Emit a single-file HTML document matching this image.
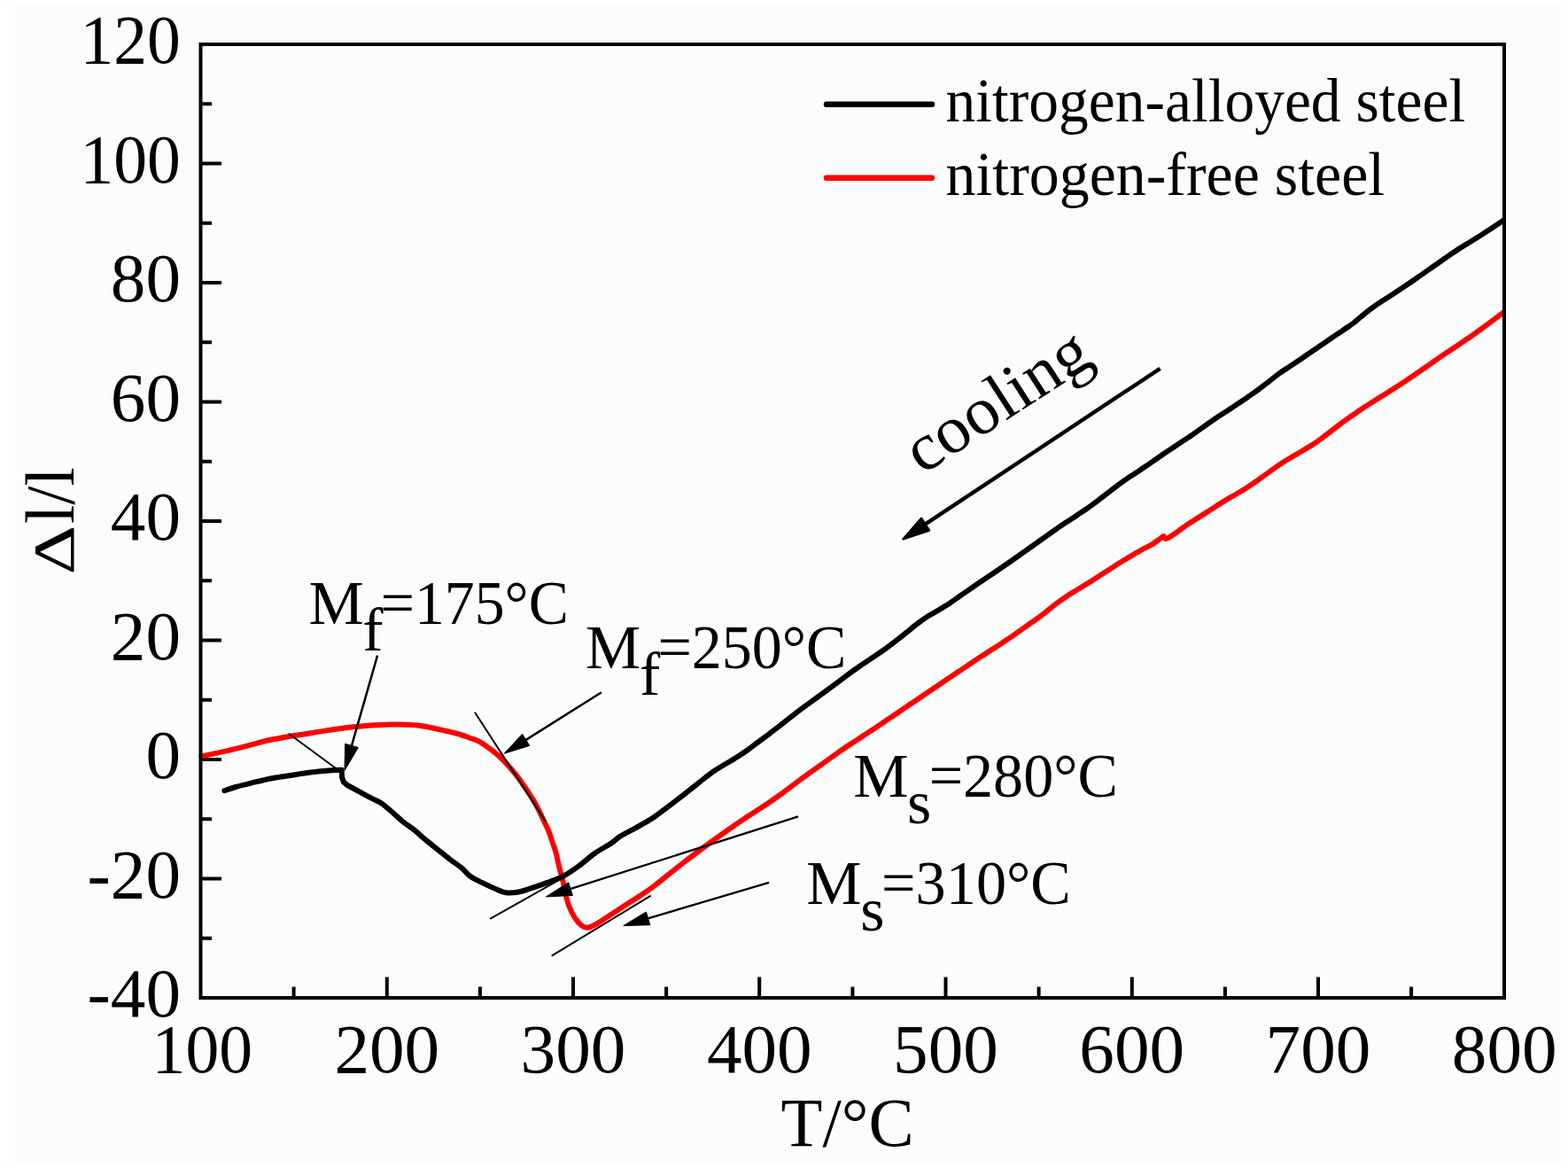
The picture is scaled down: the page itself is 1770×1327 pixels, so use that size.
<!DOCTYPE html>
<html><head><meta charset="utf-8"><title>Dilatometric curves</title>
<style>html,body{margin:0;padding:0;background:#fff;overflow:hidden}svg{display:block}</style>
</head><body>
<svg width="1770" height="1327" viewBox="0 0 1770 1327">
<rect x="0" y="0" width="1770" height="1327" fill="#ffffff"/>
<rect x="10" y="2" width="1752" height="1314" fill="#fbfcfc"/>
<g font-family="Liberation Serif, Times New Roman, serif" fill="#000">
<path d="M331.6 1126V1113.5 M436.8 1126V1102.5 M541.9 1126V1113.5 M647.0 1126V1102.5 M752.1 1126V1113.5 M857.2 1126V1102.5 M962.4 1126V1113.5 M1067.5 1126V1102.5 M1172.6 1126V1113.5 M1277.8 1126V1102.5 M1382.9 1126V1113.5 M1488.0 1126V1102.5 M1593.1 1126V1113.5 M226.5 1058.8H239.0 M226.5 991.5H250.0 M226.5 924.2H239.0 M226.5 857.0H250.0 M226.5 789.8H239.0 M226.5 722.5H250.0 M226.5 655.2H239.0 M226.5 588.0H250.0 M226.5 520.8H239.0 M226.5 453.5H250.0 M226.5 386.2H239.0 M226.5 319.0H250.0 M226.5 251.8H239.0 M226.5 184.5H250.0 M226.5 117.2H239.0" stroke="#000" stroke-width="4" fill="none"/>
<text x="98.4" y="1147.3" font-size="79.2" textLength="105.6" lengthAdjust="spacingAndGlyphs">-40</text>
<text x="98.4" y="1012.8" font-size="79.2" textLength="105.6" lengthAdjust="spacingAndGlyphs">-20</text>
<text x="164.4" y="878.3" font-size="79.2" textLength="39.6" lengthAdjust="spacingAndGlyphs">0</text>
<text x="124.8" y="743.8" font-size="79.2" textLength="79.2" lengthAdjust="spacingAndGlyphs">20</text>
<text x="124.8" y="609.3" font-size="79.2" textLength="79.2" lengthAdjust="spacingAndGlyphs">40</text>
<text x="124.8" y="474.8" font-size="79.2" textLength="79.2" lengthAdjust="spacingAndGlyphs">60</text>
<text x="124.8" y="340.3" font-size="79.2" textLength="79.2" lengthAdjust="spacingAndGlyphs">80</text>
<text x="90.4" y="205.8" font-size="79.2" textLength="113.5" lengthAdjust="spacingAndGlyphs">100</text>
<text x="90.4" y="71.3" font-size="79.2" textLength="113.5" lengthAdjust="spacingAndGlyphs">120</text>
<text x="171.6" y="1210.2" font-size="79.2" textLength="113.5" lengthAdjust="spacingAndGlyphs">100</text>
<text x="377.4" y="1210.2" font-size="79.2" textLength="118.8" lengthAdjust="spacingAndGlyphs">200</text>
<text x="587.6" y="1210.2" font-size="79.2" textLength="118.8" lengthAdjust="spacingAndGlyphs">300</text>
<text x="797.9" y="1210.2" font-size="79.2" textLength="118.8" lengthAdjust="spacingAndGlyphs">400</text>
<text x="1008.1" y="1210.2" font-size="79.2" textLength="118.8" lengthAdjust="spacingAndGlyphs">500</text>
<text x="1218.3" y="1210.2" font-size="79.2" textLength="118.8" lengthAdjust="spacingAndGlyphs">600</text>
<text x="1428.6" y="1210.2" font-size="79.2" textLength="118.8" lengthAdjust="spacingAndGlyphs">700</text>
<text x="1638.8" y="1210.2" font-size="79.2" textLength="118.8" lengthAdjust="spacingAndGlyphs">800</text>
<text x="881.5" y="1293.0" font-size="79" textLength="150.1" lengthAdjust="spacingAndGlyphs">T/°C</text>
<text transform="translate(83 648.6) rotate(-90)" x="0" y="0" font-size="66" textLength="55.9" lengthAdjust="spacingAndGlyphs">Δ</text>
<text transform="translate(83 591.1) rotate(-90)" x="0" y="0" font-size="79" textLength="63.9" lengthAdjust="spacingAndGlyphs">l/l</text>
<text x="1067.5" y="136.6" font-size="70" textLength="586.7" lengthAdjust="spacingAndGlyphs">nitrogen-alloyed steel</text>
<text x="1067.5" y="219.8" font-size="70" textLength="495.7" lengthAdjust="spacingAndGlyphs">nitrogen-free steel</text>
<path d="M933 117.8H1052" stroke="#000" stroke-width="6.5" stroke-linecap="round"/>
<path d="M933 200.7H1052" stroke="#ff0000" stroke-width="6.5" stroke-linecap="round"/>
<text x="348.4" y="703.8" font-size="70">M</text>
<text x="409.3" y="733.8" font-size="70">f</text>
<text x="429.7" y="703.8" font-size="70" textLength="212.2" lengthAdjust="spacingAndGlyphs">=175°C</text>
<text x="660.9" y="753.6" font-size="70">M</text>
<text x="722.0" y="783.6" font-size="70">f</text>
<text x="742.4" y="753.6" font-size="70" textLength="213.1" lengthAdjust="spacingAndGlyphs">=250°C</text>
<text x="963.3" y="899.3" font-size="70">M</text>
<text x="1024.0" y="929.3" font-size="70">s</text>
<text x="1048.7" y="899.3" font-size="70" textLength="213.1" lengthAdjust="spacingAndGlyphs">=280°C</text>
<text x="910.2" y="1019.7" font-size="70">M</text>
<text x="971.3" y="1049.7" font-size="70">s</text>
<text x="995.1" y="1019.7" font-size="70" textLength="213.8" lengthAdjust="spacingAndGlyphs">=310°C</text>
<text transform="translate(1040.9 536.2) rotate(-33.0)" x="0" y="0" font-size="76" textLength="233.4" lengthAdjust="spacingAndGlyphs">cooling</text>
</g>
<path d="M227.3,853.4C233.4,852.1 250.6,848.6 264.1,845.4C277.6,842.2 293.4,837.4 308.1,834.3C322.8,831.2 337.5,829.3 352.2,827.0C366.9,824.7 381.6,822.0 396.3,820.4C411.0,818.8 427.7,817.8 440.3,817.5C452.9,817.2 461.2,817.3 471.7,818.5C482.2,819.7 495.2,823.0 503.3,824.8C511.4,826.5 515.5,827.7 520.0,829.0C524.5,830.3 527.0,831.4 530.5,832.7C534.0,834.0 537.6,835.0 541.1,836.9C544.6,838.8 548.1,841.2 551.6,843.8C555.1,846.3 558.7,849.1 562.2,852.2C565.7,855.4 569.2,858.8 572.7,862.7C576.2,866.6 579.8,870.8 583.3,875.4C586.8,880.0 590.3,884.9 593.8,890.2C597.3,895.5 601.2,901.5 604.4,907.1C607.6,912.7 610.3,918.8 612.8,923.9C615.3,929.0 617.4,933.1 619.2,937.5C621.0,941.9 622.1,945.9 623.5,950.0C624.9,954.1 626.3,957.5 627.5,962.0C628.7,966.5 629.7,972.3 630.9,977.1C632.1,981.9 633.5,986.6 634.6,990.7C635.7,994.9 636.4,998.2 637.2,1002.0C638.0,1005.8 638.5,1009.6 639.5,1013.3C640.5,1017.0 641.4,1020.3 643.0,1024.1C644.6,1027.9 646.8,1032.6 649.0,1035.9C651.2,1039.2 653.9,1042.4 656.2,1044.2C658.5,1046.0 660.4,1046.9 663.0,1046.8C665.6,1046.7 667.9,1045.5 671.6,1043.5C675.3,1041.5 680.4,1038.0 685.1,1035.0C689.8,1032.0 695.5,1028.2 700.0,1025.3C704.5,1022.4 708.0,1020.1 712.0,1017.5C716.0,1014.9 720.0,1012.4 724.0,1009.7C728.0,1007.1 732.0,1004.5 736.0,1001.6C740.0,998.7 744.0,995.3 748.0,992.1C752.0,988.9 756.0,985.7 760.0,982.5C764.0,979.3 768.0,976.1 772.0,973.0C776.0,969.9 780.0,967.0 784.0,964.0C788.0,961.0 792.0,958.0 796.0,955.0C800.0,952.0 804.0,949.1 808.0,946.2C812.0,943.4 816.0,940.6 820.0,937.8C824.0,935.0 828.0,932.2 832.0,929.4C836.0,926.7 840.0,924.0 844.0,921.3C848.0,918.7 852.0,916.1 856.0,913.5C860.0,910.9 864.0,908.4 868.0,905.7C872.0,903.0 876.0,900.2 880.0,897.3C884.0,894.4 888.0,891.3 892.0,888.3C896.0,885.3 900.0,882.3 904.0,879.3C908.0,876.4 912.0,873.5 916.0,870.7C920.0,867.8 924.0,865.0 928.0,862.1C932.0,859.3 936.0,856.5 940.0,853.6C944.0,850.8 948.0,847.8 952.0,845.1C956.0,842.3 960.0,839.8 964.0,837.2C968.0,834.6 972.0,831.9 976.0,829.3C980.0,826.7 984.0,824.0 988.0,821.4C992.0,818.7 996.0,816.0 1000.0,813.3C1004.0,810.6 1008.0,807.9 1012.0,805.2C1016.0,802.5 1020.0,799.8 1024.0,797.0C1028.0,794.3 1032.0,791.6 1036.0,788.9C1040.0,786.2 1044.0,783.5 1048.0,780.8C1052.0,778.1 1056.0,775.4 1060.0,772.7C1064.0,770.0 1068.0,767.3 1072.0,764.6C1076.0,761.9 1080.0,759.2 1084.0,756.6C1088.0,753.9 1092.0,751.1 1096.0,748.5C1100.0,745.8 1104.0,743.2 1108.0,740.6C1112.0,737.9 1116.0,735.4 1120.0,732.8C1124.0,730.2 1128.0,727.6 1132.0,725.0C1136.0,722.3 1140.0,719.6 1144.0,716.9C1148.0,714.1 1152.0,711.2 1156.0,708.4C1160.0,705.5 1164.0,702.8 1168.0,700.0C1172.0,697.1 1176.0,694.2 1180.0,691.1C1184.0,688.0 1188.0,684.4 1192.0,681.4C1196.0,678.4 1200.0,675.6 1204.0,672.9C1208.0,670.3 1212.0,668.0 1216.0,665.5C1220.0,663.0 1224.0,660.6 1228.0,658.1C1232.0,655.7 1236.0,653.1 1240.0,650.5C1244.0,648.0 1248.0,645.4 1252.0,642.8C1256.0,640.2 1260.0,637.5 1264.0,635.0C1268.0,632.5 1272.0,630.1 1276.0,627.8C1280.0,625.4 1284.0,623.1 1288.0,620.9C1292.0,618.7 1297.7,615.8 1300.0,614.6C1302.3,613.4 1299.9,614.7 1301.7,613.5C1303.5,612.3 1308.7,608.5 1310.7,607.1C1312.7,605.7 1312.7,604.9 1313.6,605.0C1314.5,605.1 1314.2,608.2 1316.0,608.0C1317.8,607.8 1321.0,605.7 1324.3,603.5C1327.6,601.3 1332.0,597.8 1336.0,595.0C1340.0,592.3 1344.0,589.7 1348.0,587.1C1352.0,584.5 1356.0,581.9 1360.0,579.4C1364.0,576.8 1368.0,574.2 1372.0,571.7C1376.0,569.2 1380.0,566.5 1384.0,564.1C1388.0,561.7 1392.0,559.6 1396.0,557.2C1400.0,554.9 1404.0,552.6 1408.0,550.0C1412.0,547.4 1416.0,544.5 1420.0,541.7C1424.0,538.9 1428.0,535.9 1432.0,533.1C1436.0,530.2 1440.0,527.2 1444.0,524.5C1448.0,521.8 1452.0,519.4 1456.0,517.0C1460.0,514.6 1464.0,512.3 1468.0,510.0C1472.0,507.6 1476.0,505.4 1480.0,502.9C1484.0,500.3 1488.0,497.5 1492.0,494.6C1496.0,491.7 1500.0,488.4 1504.0,485.3C1508.0,482.3 1512.0,479.2 1516.0,476.2C1520.0,473.3 1524.0,470.4 1528.0,467.7C1532.0,464.9 1536.0,462.2 1540.0,459.5C1544.0,456.9 1548.0,454.5 1552.0,451.9C1556.0,449.4 1560.0,447.0 1564.0,444.4C1568.0,441.9 1572.0,439.4 1576.0,436.8C1580.0,434.2 1584.0,431.6 1588.0,428.9C1592.0,426.2 1596.0,423.5 1600.0,420.8C1604.0,418.1 1608.0,415.3 1612.0,412.5C1616.0,409.7 1620.0,406.9 1624.0,404.1C1628.0,401.4 1632.0,398.8 1636.0,396.1C1640.0,393.4 1644.0,390.7 1648.0,388.0C1652.0,385.2 1656.0,382.6 1660.0,379.9C1664.0,377.1 1668.0,374.2 1672.0,371.3C1676.0,368.4 1680.0,365.4 1684.0,362.4C1688.0,359.4 1693.9,355.0 1696.0,353.4C1698.1,351.9 1696.5,353.1 1696.6,353.0" fill="none" stroke="#ff0000" stroke-width="6" stroke-linejoin="round" stroke-linecap="round"/>
<path d="M253.4,892.2C255.5,891.5 260.5,889.6 266.1,888.0C271.7,886.4 280.2,884.4 287.2,882.7C294.2,881.0 301.3,879.3 308.3,878.0C315.3,876.7 322.4,875.9 329.4,874.8C336.4,873.7 343.5,872.5 350.5,871.6C357.5,870.7 365.7,870.0 371.6,869.5C377.5,869.0 383.4,868.8 385.7,868.7L386.0,877.0L388.0,882.5L392.0,886.0C394.4,887.3 401.8,891.2 406.2,893.6C410.6,896.0 414.2,898.1 418.2,900.2C422.2,902.3 426.7,903.9 430.3,906.2C433.9,908.5 436.1,910.7 440.0,914.0C443.9,917.3 449.1,922.5 453.6,926.2C458.1,929.9 462.6,932.6 467.1,936.2C471.6,939.8 476.2,944.1 480.7,947.9C485.2,951.7 489.8,955.2 494.3,958.8C498.8,962.4 503.3,966.1 507.8,969.6C512.3,973.1 517.6,976.5 521.4,979.6C525.2,982.8 526.6,985.8 530.4,988.5C534.2,991.2 539.5,993.6 544.0,995.9C548.5,998.2 553.1,1000.3 557.6,1002.2C562.1,1004.1 566.4,1006.6 571.1,1007.3C575.8,1008.0 581.0,1007.3 585.7,1006.5C590.4,1005.7 593.9,1004.1 599.2,1002.4C604.5,1000.7 611.3,998.4 617.3,996.1C623.3,993.9 629.4,992.1 635.4,988.9C641.4,985.7 647.5,981.5 653.5,977.1C659.5,972.7 665.6,966.9 671.6,962.7C677.6,958.5 684.9,954.9 689.6,951.8C694.3,948.7 696.3,946.2 700.0,943.8C703.7,941.4 708.0,939.4 712.0,937.2C716.0,935.0 720.0,932.9 724.0,930.6C728.0,928.4 732.0,926.3 736.0,923.6C740.0,921.0 744.0,917.8 748.0,914.8C752.0,911.8 756.0,908.8 760.0,905.8C764.0,902.8 768.0,899.7 772.0,896.6C776.0,893.5 780.0,890.3 784.0,887.1C788.0,883.9 792.0,880.6 796.0,877.5C800.0,874.5 804.0,871.4 808.0,868.8C812.0,866.1 816.0,863.9 820.0,861.5C824.0,859.1 828.0,856.8 832.0,854.2C836.0,851.7 840.0,849.1 844.0,846.2C848.0,843.4 852.0,840.2 856.0,837.3C860.0,834.3 864.0,831.3 868.0,828.3C872.0,825.2 876.0,822.2 880.0,819.1C884.0,816.0 888.0,812.8 892.0,809.7C896.0,806.6 900.0,803.4 904.0,800.4C908.0,797.4 912.0,794.5 916.0,791.6C920.0,788.7 924.0,785.8 928.0,782.9C932.0,780.0 936.0,777.2 940.0,774.2C944.0,771.3 948.0,768.3 952.0,765.2C956.0,762.2 960.0,759.1 964.0,756.2C968.0,753.3 972.0,750.6 976.0,747.9C980.0,745.2 984.0,742.6 988.0,739.9C992.0,737.2 996.0,734.5 1000.0,731.7C1004.0,728.8 1008.0,725.8 1012.0,722.7C1016.0,719.6 1020.0,716.3 1024.0,713.1C1028.0,709.9 1032.0,706.4 1036.0,703.5C1040.0,700.5 1044.0,697.7 1048.0,695.1C1052.0,692.6 1056.0,690.5 1060.0,688.1C1064.0,685.7 1068.0,683.3 1072.0,680.7C1076.0,678.0 1080.0,675.1 1084.0,672.3C1088.0,669.6 1092.0,666.7 1096.0,664.0C1100.0,661.2 1104.0,658.5 1108.0,655.8C1112.0,653.1 1116.0,650.5 1120.0,647.8C1124.0,645.1 1128.0,642.3 1132.0,639.5C1136.0,636.8 1140.0,634.0 1144.0,631.2C1148.0,628.4 1152.0,625.5 1156.0,622.7C1160.0,619.9 1164.0,617.1 1168.0,614.3C1172.0,611.4 1176.0,608.6 1180.0,605.8C1184.0,603.0 1188.0,600.1 1192.0,597.3C1196.0,594.5 1200.0,591.8 1204.0,589.1C1208.0,586.4 1212.0,583.9 1216.0,581.2C1220.0,578.5 1224.0,576.0 1228.0,573.2C1232.0,570.4 1236.0,567.4 1240.0,564.4C1244.0,561.4 1248.0,558.2 1252.0,555.1C1256.0,552.0 1260.0,548.9 1264.0,545.9C1268.0,543.0 1272.0,540.3 1276.0,537.6C1280.0,534.9 1284.0,532.4 1288.0,529.7C1292.0,527.0 1296.0,524.4 1300.0,521.6C1304.0,518.9 1308.0,516.1 1312.0,513.3C1316.0,510.6 1320.0,507.8 1324.0,505.2C1328.0,502.5 1332.0,499.9 1336.0,497.3C1340.0,494.6 1344.0,492.0 1348.0,489.2C1352.0,486.4 1356.0,483.4 1360.0,480.6C1364.0,477.8 1368.0,474.9 1372.0,472.2C1376.0,469.5 1380.0,467.0 1384.0,464.4C1388.0,461.7 1392.0,459.1 1396.0,456.4C1400.0,453.8 1404.0,451.1 1408.0,448.4C1412.0,445.6 1416.0,442.9 1420.0,440.0C1424.0,437.1 1428.0,433.9 1432.0,430.8C1436.0,427.8 1440.0,424.3 1444.0,421.4C1448.0,418.5 1452.0,416.2 1456.0,413.5C1460.0,410.8 1464.0,408.1 1468.0,405.4C1472.0,402.7 1476.0,399.9 1480.0,397.2C1484.0,394.5 1488.0,391.8 1492.0,389.0C1496.0,386.3 1500.0,383.5 1504.0,380.7C1508.0,378.0 1512.0,375.4 1516.0,372.7C1520.0,369.9 1524.0,367.6 1528.0,364.5C1532.0,361.4 1536.0,357.5 1540.0,354.3C1544.0,351.0 1548.0,348.1 1552.0,345.3C1556.0,342.4 1560.0,339.9 1564.0,337.3C1568.0,334.7 1572.0,332.2 1576.0,329.6C1580.0,326.9 1584.0,324.2 1588.0,321.5C1592.0,318.8 1596.0,316.0 1600.0,313.2C1604.0,310.5 1608.0,307.7 1612.0,304.9C1616.0,302.2 1620.0,299.3 1624.0,296.5C1628.0,293.7 1632.0,290.9 1636.0,288.1C1640.0,285.4 1644.0,282.6 1648.0,280.1C1652.0,277.5 1656.0,275.2 1660.0,272.7C1664.0,270.3 1668.0,267.8 1672.0,265.3C1676.0,262.7 1680.0,260.0 1684.0,257.4C1688.0,254.7 1693.9,250.8 1696.0,249.4C1698.1,248.0 1696.5,249.1 1696.6,249.0" fill="none" stroke="#000" stroke-width="6" stroke-linejoin="round" stroke-linecap="round"/>
<line x1="325.8" y1="827.7" x2="386" y2="872" stroke="#000" stroke-width="2"/>
<line x1="536" y1="803.7" x2="616" y2="927.1" stroke="#000" stroke-width="2"/>
<line x1="553.1" y1="1036.8" x2="640" y2="988" stroke="#000" stroke-width="2"/>
<line x1="622.7" y1="1078.6" x2="734.7" y2="1010.6" stroke="#000" stroke-width="2"/>
<line x1="426.1" y1="739.7" x2="396.4" y2="843.3" stroke="#000" stroke-width="2.5"/>
<polygon points="389.0,869.3 389.6,839.3 404.4,843.5" fill="#000" stroke="#000" stroke-width="1" stroke-linejoin="round"/>
<line x1="678.9" y1="781.3" x2="592.1" y2="835.9" stroke="#000" stroke-width="2.5"/>
<polygon points="569.2,850.3 589.6,828.3 597.8,841.4" fill="#000" stroke="#000" stroke-width="1" stroke-linejoin="round"/>
<line x1="901" y1="921.3" x2="642.1" y2="1003.7" stroke="#000" stroke-width="2.3"/>
<polygon points="616.4,1011.9 641.7,995.8 646.4,1010.4" fill="#000" stroke="#000" stroke-width="1" stroke-linejoin="round"/>
<line x1="868.1" y1="995.8" x2="729.7" y2="1036.9" stroke="#000" stroke-width="2.3"/>
<polygon points="703.8,1044.6 729.4,1029.0 733.8,1043.7" fill="#000" stroke="#000" stroke-width="1" stroke-linejoin="round"/>
<line x1="1309.6" y1="415.8" x2="1042.8" y2="592.7" stroke="#000" stroke-width="4.4"/>
<polygon points="1019.5,608.2 1040.0,584.8 1049.0,598.5" fill="#000" stroke="#000" stroke-width="2.5" stroke-linejoin="round"/>
<rect x="226.5" y="50" width="1471.5" height="1076" fill="none" stroke="#000" stroke-width="4"/>
</svg>
</body></html>
